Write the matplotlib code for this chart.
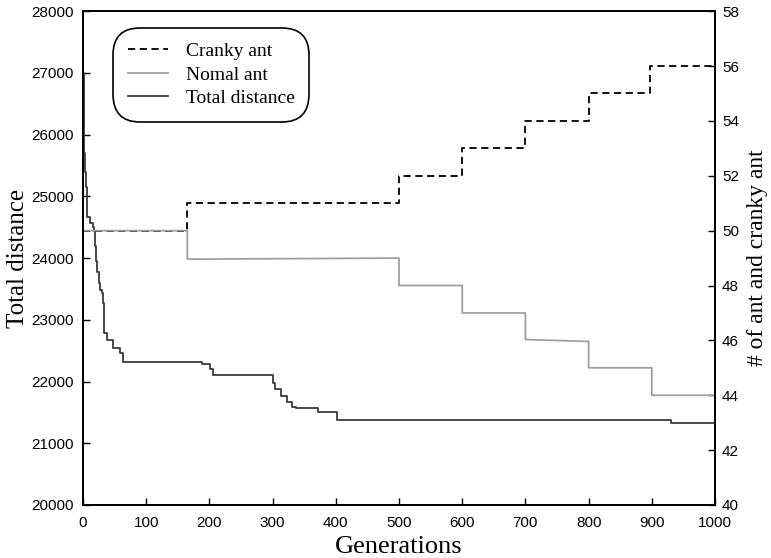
import numpy as np
import matplotlib
matplotlib.use("Agg")
import matplotlib.pyplot as plt

# total distance (left axis): generation where the value changes, new value
gen_total = [0, 1, 2, 3, 4, 6, 11, 15, 17, 19, 21, 22, 25, 27, 30, 32, 33, 38, 47, 59, 64,
             188, 201, 205, 301, 304, 313, 322, 330, 337, 372, 402, 930, 1000]
total_dist = [27000, 26300, 25700, 25400, 25150, 24660, 24570, 24500, 24440, 24200, 23950,
              23770, 23600, 23480, 23430, 23270, 22790, 22670, 22540, 22460, 22320,
              22285, 22200, 22105, 21980, 21880, 21770, 21670, 21590, 21570, 21505,
              21380, 21330, 21330]

# number of ants (right axis)
gen_ants = [0, 165, 165, 500, 500, 600, 600, 700, 700, 800, 800, 900, 900, 1000]
nomal_ant = [50, 50, 48.96, 49.0, 48, 48, 47, 47, 46.03, 45.96, 45, 45, 44, 44]
gen_cranky = [0, 165, 500, 600, 700, 800, 897, 1000]
cranky_ant = [50, 51, 52, 53, 54, 55, 56, 56]

serif = "Liberation Serif"
sans = "Liberation Sans"

fig = plt.figure(figsize=(7.71, 5.58), dpi=100)
ax = fig.add_axes([0.1077, 0.095, 0.8197, 0.885])
ax2 = ax.twinx()

l3, = ax.step(gen_total, total_dist, where="post", color="#3a3a3a", lw=1.3, label="Total distance")
l1, = ax2.step(gen_cranky, cranky_ant, where="post", color="black", lw=1.3,
               linestyle=(0, (4, 2.5)), label="Cranky ant")
l2, = ax2.plot(gen_ants, nomal_ant, color="#a0a0a0", lw=1.3, label="Nomal ant")

ax.set_xlim(0, 1000)
ax.set_ylim(20000, 28000)
ax2.set_ylim(40, 58)
ax.set_xticks(np.arange(0, 1001, 100))
ax.set_yticks(np.arange(20000, 28001, 1000))
ax2.set_yticks(np.arange(40, 59, 2))

ax.tick_params(direction="in", length=5, width=1, labelsize=11, pad=7)
ax.tick_params(axis="x", pad=8)
ax2.tick_params(direction="in", length=5, width=1, labelsize=11, pad=5)
for a in (ax, ax2):
    for t in a.get_xticklabels() + a.get_yticklabels():
        t.set_fontfamily(sans)
    for s in a.spines.values():
        s.set_linewidth(1.3)

ax.set_xlabel("Generations", fontsize=19, fontfamily=serif, labelpad=4)
ax.set_ylabel("Total distance", fontsize=18, fontfamily=serif, labelpad=1)
ax2.set_ylabel("# of ant and cranky ant", fontsize=17, fontfamily=serif, labelpad=6)

leg = ax2.legend(handles=[l1, l2, l3], loc="upper left", bbox_to_anchor=(0.0475, 0.966),
                 borderaxespad=0, prop={"family": serif, "size": 14}, handlelength=2.1,
                 handletextpad=0.9, labelspacing=0.3, borderpad=0.75, fancybox=True,
                 framealpha=1)
frame = leg.get_frame()
frame.set_edgecolor("black")
frame.set_linewidth(1.2)
frame.set_boxstyle("round,pad=0,rounding_size=1.4")

fig.savefig("out.png", dpi=100)
